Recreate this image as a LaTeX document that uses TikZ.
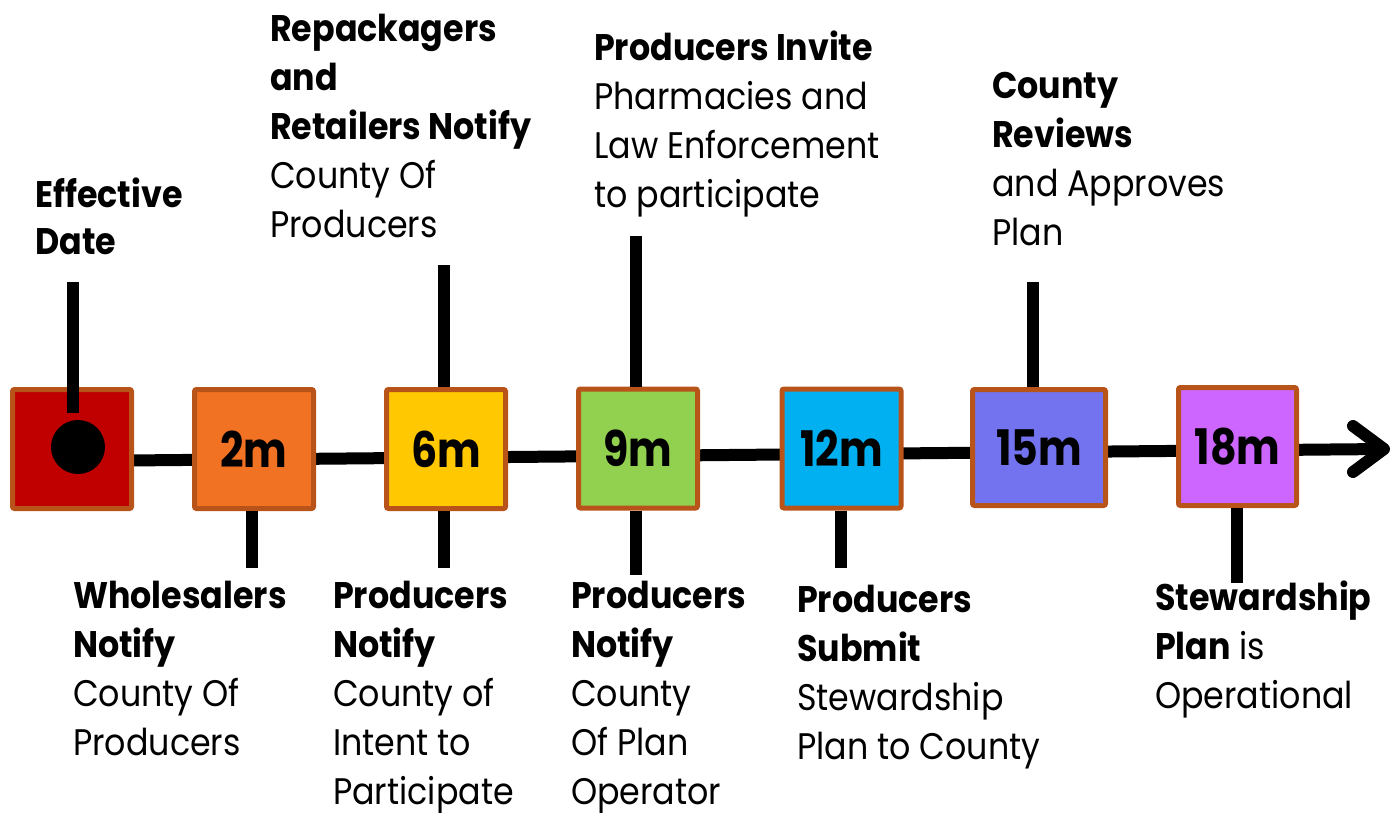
\documentclass[tikz,border=0pt]{standalone}
\usepackage{fontspec}
\setmainfont{Poppins}[FakeStretch=0.9]
\newfontfamily\numfont{Poppins}[FakeStretch=0.84]
\usetikzlibrary{calc}
\definecolor{bordc}{RGB}{184,84,26}
\definecolor{c0}{RGB}{192,0,0}
\definecolor{c1}{RGB}{241,114,34}
\definecolor{c2}{RGB}{255,200,0}
\definecolor{c3}{RGB}{146,208,80}
\definecolor{c4}{RGB}{0,176,240}
\definecolor{c5}{RGB}{115,115,240}
\definecolor{c6}{RGB}{204,102,255}
\newcommand\lab[1]{\begin{tabular}[t]{@{}l@{}}#1\end{tabular}}
\begin{document}
\begin{tikzpicture}[x=1pt,y=-1pt,
  mbox/.style={draw=bordc,line width=5pt,rounded corners=2pt,minimum width=119pt,minimum height=119pt,inner sep=0pt,font=\numfont\fontsize{49}{49}\selectfont\bfseries},
  stem/.style={line width=12pt,line cap=butt},
  lbl/.style={anchor=base west,inner sep=0pt,font=\fontsize{37}{49}\selectfont}]
\useasboundingbox (0,0) rectangle (1392,812);
% timeline
\coordinate (ls) at (72,461);
\coordinate (le) at (1384,449);
\draw[line width=12pt] (ls) -- (le);
\draw[line width=12pt,line cap=round,line join=round] ($(le)+(-31,-23)$) -- (le) -- ($(le)+(-31,23)$);
% boxes
\node[mbox,fill=c0] (b0) at (72,449) {};
\node[mbox,fill=c1] (b1) at (254,449) {2m};
\node[mbox,fill=c2] (b2) at (446,449) {6m};
\node[mbox,fill=c3] (b3) at (638,448.5) {9m};
\node[mbox,fill=c4] (b4) at (841.5,448.5) {12m};
\node[mbox,fill=c5,minimum width=133pt,minimum height=116pt] (b5) at (1039,447.5) {15m};
\node[mbox,fill=c6,minimum width=118pt,minimum height=118pt] (b6) at (1237.5,446.5) {18m};
% dot in first box
\node[circle,fill=black,minimum size=54pt,inner sep=0pt] (dot) at (78,447) {};
% stems
\coordinate (e0a) at (73,282);
\coordinate (e0b) at (73,413);
\draw[stem] (e0a) -- (e0b);
\coordinate (e1) at (252,568);
\draw[stem] (e1 |- b1.south) -- (e1);
\coordinate (e2a) at (444,265);
\coordinate (e2b) at (444,568);
\draw[stem] (e2a) -- (e2a |- b2.north);
\draw[stem] (e2b |- b2.south) -- (e2b);
\coordinate (e3a) at (636,236);
\coordinate (e3b) at (636,575);
\draw[stem] (e3a) -- (e3a |- b3.north);
\draw[stem] (e3b |- b3.south) -- (e3b);
\coordinate (e4) at (840.5,568);
\draw[stem] (e4 |- b4.south) -- (e4);
\coordinate (e5) at (1033,282);
\draw[stem] (e5) -- (e5 |- b5.north);
\coordinate (e6) at (1236.5,583);
\draw[stem] (e6 |- b6.south) -- (e6);
% labels
\node[lbl] (t0) at (35,207) {\lab{\textbf{Effective}\\[-2pt]\textbf{Date}}};
\node[lbl] (t2a) at (270,41) {\lab{\textbf{Repackagers}\\\textbf{and}\\\textbf{Retailers Notify}\\County Of\\Producers}};
\node[lbl] (t3a) at (594,60) {\lab{\textbf{Producers Invite}\\Pharmacies and\\Law Enforcement\\to participate}};
\node[lbl] (t5a) at (992,98) {\lab{\textbf{County}\\\textbf{Reviews}\\and Approves\\Plan}};
\node[lbl] (t1b) at (73,608) {\lab{\textbf{Wholesalers}\\\textbf{Notify}\\County Of\\Producers}};
\node[lbl] (t2b) at (333,608) {\lab{\textbf{Producers}\\\textbf{Notify}\\County of\\Intent to\\Participate}};
\node[lbl] (t3b) at (571,608) {\lab{\textbf{Producers}\\\textbf{Notify}\\County\\Of Plan\\Operator}};
\node[lbl] (t4b) at (797,612) {\lab{\textbf{Producers}\\\textbf{Submit}\\Stewardship\\Plan to County}};
\node[lbl] (t6b) at (1155,610) {\lab{\textbf{Stewardship}\\\textbf{Plan} is\\Operational}};
\end{tikzpicture}
\end{document}
